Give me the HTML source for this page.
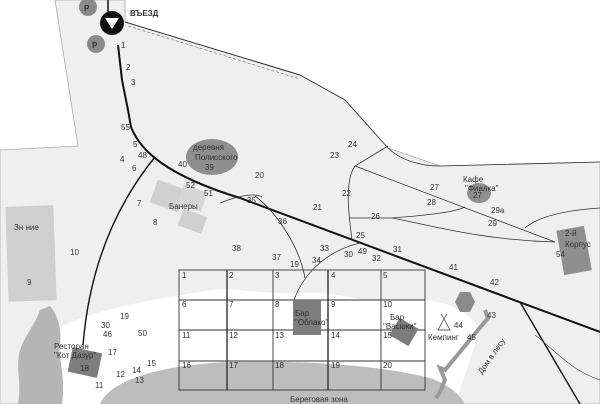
<!DOCTYPE html>
<html><head><meta charset="utf-8"><style>
html,body{margin:0;padding:0;background:#fff}
svg{display:block}
text{font-family:"Liberation Sans",sans-serif;font-size:8px;fill:#333}
</style></head><body>
<svg width="600" height="404" viewBox="0 0 600 404" xmlns="http://www.w3.org/2000/svg">
<rect width="600" height="404" fill="#fff"/>
<path d="M55,0 L125,0 L125,22 L300,75 L345,100 L388,148 L440,166 L600,162 L600,404 L0,404 L0,150 L78,146 Z" fill="#efefef" stroke="#aaa" stroke-width="0.8"/>
<path d="M55,330 C90,310 150,300 200,292 C230,285 260,295 300,293 C340,290 360,305 400,300 C440,296 470,310 480,330 L455,404 L60,404 Z" fill="#fff"/>
<path d="M100,404 C110,380 160,365 230,362 C300,360 380,365 430,378 C450,385 460,395 465,404 Z" fill="#bdbdbd"/>
<path d="M50,306 C58,315 62,330 60,345 C58,360 66,375 62,404 L18,404 C22,380 15,370 20,350 C25,335 35,325 40,310 Z" fill="#b5b5b5"/>
<path d="M125,22 L300,75" stroke="#333" stroke-width="1" fill="none"/>
<path d="M128,26 L300,79" stroke="#666" stroke-width="0.6" stroke-dasharray="3,2" fill="none"/>
<path d="M300,75 L345,100 L388,148 C400,160 420,166 440,166 L600,162" stroke="#333" stroke-width="0.8" fill="none"/>
<rect x="7" y="206" width="48" height="95" fill="#cfcfcf" transform="rotate(-2 30 254)"/>
<text x="14" y="230" font-size="6">Зн ние</text><text x="27" y="285">9</text>
<rect x="153" y="184" width="30" height="24" fill="#d0d0d0" transform="rotate(20 168 196)"/>
<rect x="180" y="188" width="25" height="20" fill="#d6d6d6" transform="rotate(20 192 198)"/>
<rect x="180" y="212" width="25" height="18" fill="#d0d0d0" transform="rotate(20 192 221)"/>
<text x="169" y="209" font-size="7">Банеры</text>
<ellipse cx="212" cy="157" rx="26" ry="18" fill="#8f8f8f"/>
<text x="193" y="150" font-size="7">деревня</text><text x="195" y="160" font-size="7">Полисского</text><text x="205" y="170">39</text>
<path d="M108,0 L108,20" stroke="#111" stroke-width="1.5"/>
<path d="M118,45 L122,80 L128,110 L131,127 C140,150 165,175 240,198 L600,332" stroke="#111" stroke-width="2" fill="none"/>
<path d="M155,157 C120,200 90,260 83,345" stroke="#111" stroke-width="1.4" fill="none"/>
<path d="M220,203 C240,195 255,193 262,197" stroke="#333" stroke-width="0.8" fill="none"/>
<path d="M255,196 C280,215 300,250 305,278" stroke="#333" stroke-width="0.8" fill="none"/>
<path d="M294,300 C305,270 330,250 360,243" stroke="#333" stroke-width="0.8" fill="none"/>
<path d="M352,240 C348,210 345,180 355,166 L388,146" stroke="#333" stroke-width="0.8" fill="none"/>
<path d="M355,166 L555,242" stroke="#333" stroke-width="0.8" fill="none"/>
<path d="M349,218 L392,218 C430,215 455,212 465,207" stroke="#333" stroke-width="0.8" fill="none"/>
<path d="M392,218 C430,225 480,240 555,242" stroke="#333" stroke-width="0.8" fill="none"/>
<path d="M525,228 C540,215 570,210 600,208" stroke="#333" stroke-width="0.8" fill="none"/>
<path d="M520,302 L580,404" stroke="#111" stroke-width="1.4" fill="none"/>
<path d="M535,335 C555,350 570,370 600,380" stroke="#444" stroke-width="0.6" fill="none"/>
<ellipse cx="479" cy="193" rx="12" ry="10" fill="#8f8f8f"/>
<text x="463" y="182" font-size="7">Кафе</text><text x="465" y="191" font-size="7">"Фиалка"</text><text x="473" y="198">27</text>
<rect x="560" y="228" width="28" height="45" fill="#8f8f8f" transform="rotate(-10 574 250)"/>
<text x="565" y="236" font-size="7">2-й</text><text x="565" y="247" font-size="7">Корпус</text><text x="556" y="257">54</text>
<rect x="70" y="350" width="30" height="25" fill="#7d7d7d" transform="rotate(12 85 362)"/>
<text x="54" y="349" font-size="7">Ресторан</text><text x="54" y="358" font-size="7">"Кот Дазур"</text><text x="80" y="371">18</text>
<g stroke="#333" stroke-width="0.9" fill="none">
<rect x="179" y="270" width="246" height="120"/>
<line x1="179" y1="300" x2="425" y2="300"/><line x1="179" y1="330" x2="425" y2="330"/><line x1="179" y1="361" x2="425" y2="361"/>
<line x1="227" y1="270" x2="227" y2="390" stroke-width="1.4"/><line x1="273" y1="270" x2="273" y2="390"/><line x1="328" y1="270" x2="328" y2="390" stroke-width="1.4"/><line x1="381" y1="270" x2="381" y2="390"/>
</g>
<rect x="293" y="300" width="28" height="35" fill="#7d7d7d"/>
<text x="295" y="316" font-size="7">Бар</text><text x="295" y="325" font-size="7">"Облако"</text>
<rect x="393" y="322" width="22" height="20" fill="#7d7d7d" transform="rotate(30 404 332)"/>
<text x="390" y="320" font-size="7">Бар</text><text x="383" y="329" font-size="7">"Васюки"</text>
<polygon points="460,292 470,292 475,302 470,312 460,312 455,302" fill="#8a8a8a"/>
<path d="M485,310 L488,318 L445,370 L440,368 L445,380 L440,392 L436,398" stroke="#999" stroke-width="4" fill="none"/>
<text x="487" y="318" font-size="9" fill="#222">43</text>
<text x="465" y="378" font-size="6" transform="rotate(-55 470 360)">Дом в лесу</text>
<path d="M438,330 L444,319 L450,330 Z M444,319 L441,314 M444,319 L447,314" stroke="#333" stroke-width="0.7" fill="none"/>
<text x="428" y="340" font-size="7">Кемпинг</text><text x="454" y="328">44</text><text x="467" y="340">45</text>
<text x="290" y="402" font-size="7">Береговая зона</text>
<g font-size="7"><text x="182" y="278">1</text><text x="229" y="278">2</text><text x="275" y="278">3</text><text x="331" y="278">4</text><text x="383" y="278">5</text>
<text x="182" y="307">6</text><text x="229" y="307">7</text><text x="275" y="307">8</text><text x="331" y="307">9</text><text x="383" y="307">10</text>
<text x="182" y="338">11</text><text x="229" y="338">12</text><text x="275" y="338">13</text><text x="331" y="338">14</text><text x="383" y="338">15</text>
<text x="182" y="368">16</text><text x="229" y="368">17</text><text x="275" y="368">18</text><text x="331" y="368">19</text><text x="383" y="368">20</text></g>
<circle cx="88" cy="7" r="9" fill="#8a8a8a"/><text x="84" y="11" font-size="11" font-weight="bold" fill="#fff">P</text>
<circle cx="96" cy="44" r="9" fill="#8a8a8a"/><text x="92" y="48" font-size="11" font-weight="bold" fill="#fff">P</text>
<circle cx="112" cy="23" r="12" fill="#111"/><polygon points="105,18 119,18 112,29" fill="#fff"/>
<text x="130" y="16" font-size="13" font-weight="bold" fill="#111">ВЪЕЗД</text>
<g font-size="7">
<text x="121" y="48">1</text><text x="126" y="70">2</text><text x="131" y="85">3</text><text x="121" y="130">55</text><text x="133" y="147">5</text><text x="120" y="162">4</text><text x="138" y="158">48</text><text x="132" y="171">6</text>
<text x="178" y="167">40</text><text x="255" y="178">20</text><text x="186" y="188">52</text><text x="204" y="196">51</text><text x="247" y="203">35</text><text x="137" y="206">7</text><text x="153" y="225">8</text><text x="70" y="255">10</text>
<text x="278" y="224">36</text><text x="232" y="251">38</text><text x="272" y="260">37</text><text x="290" y="267">19</text><text x="313" y="210">21</text><text x="330" y="158">23</text><text x="348" y="147">24</text><text x="342" y="196">22</text><text x="371" y="219">26</text><text x="430" y="190">27</text><text x="427" y="205">28</text><text x="491" y="213">29a</text><text x="488" y="226">29</text>
<text x="356" y="238">25</text><text x="320" y="251">33</text><text x="312" y="263">34</text><text x="344" y="257">30</text><text x="358" y="254">49</text><text x="372" y="261">32</text><text x="393" y="252">31</text><text x="449" y="270">41</text><text x="490" y="285">42</text>
<text x="120" y="319">19</text><text x="101" y="328">30</text><text x="103" y="337">46</text><text x="138" y="336">50</text><text x="108" y="355">17</text><text x="147" y="366">15</text><text x="132" y="373">14</text><text x="116" y="377">12</text><text x="135" y="383">13</text><text x="95" y="388">11</text>
</g>
</svg>
</body></html>
